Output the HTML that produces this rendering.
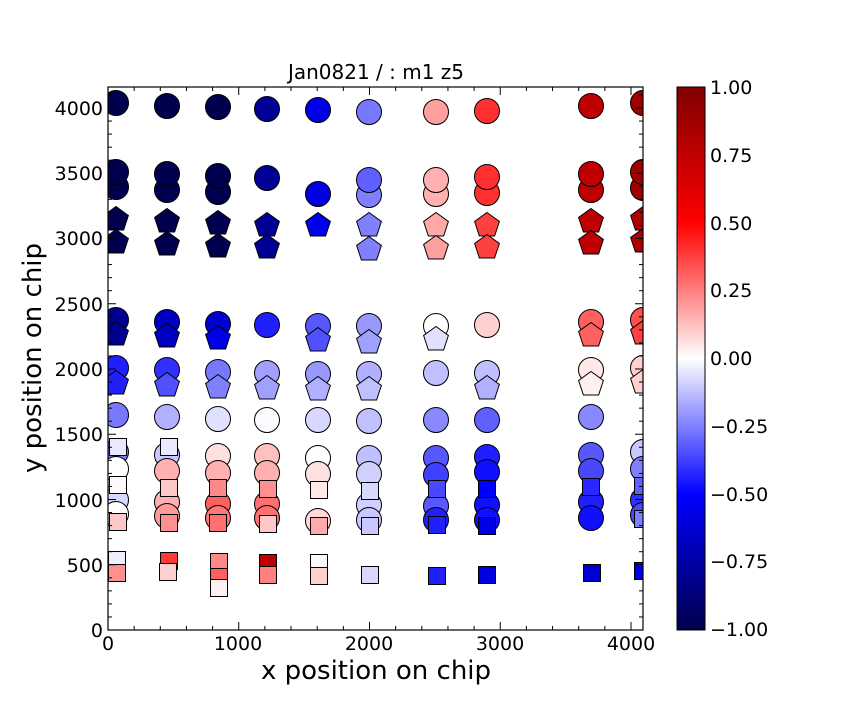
<!DOCTYPE html>
<html><head><meta charset="utf-8"><style>body{margin:0;background:#fff}svg{display:block;font-family:"DejaVu Sans","Liberation Sans",sans-serif}</style></head>
<body>
<svg id="s" width="864" height="720" viewBox="0 0 864 720" xmlns="http://www.w3.org/2000/svg">
<defs>
<clipPath id="c"><rect x="108" y="87" width="535" height="543"/></clipPath>
<linearGradient id="g" x1="0" y1="0" x2="0" y2="1">
<stop offset="0" stop-color="#800000"/><stop offset="0.25" stop-color="#ff0000"/><stop offset="0.5" stop-color="#ffffff"/><stop offset="0.75" stop-color="#0000ff"/><stop offset="1" stop-color="#00004c"/>
</linearGradient>
</defs>
<rect width="864" height="720" fill="#fff"/>
<g id="m" clip-path="url(#c)" stroke="#000" stroke-width="1"></g>
<g id="ax" stroke="#000" fill="none"></g>
<rect x="108" y="87" width="535" height="543" fill="none" stroke="#000" stroke-width="1.2"/>
<text x="376" y="79" font-size="20" text-anchor="middle">Jan0821 / : m1 z5</text>
<text x="376" y="679" font-size="26" text-anchor="middle">x position on chip</text>
<text x="41" y="358" font-size="26" text-anchor="middle" transform="rotate(-90 41 358)">y position on chip</text>
<g font-size="19" text-anchor="middle">
<text x="108" y="650">0</text><text x="238" y="650">1000</text><text x="369" y="650">2000</text><text x="500" y="650">3000</text><text x="631" y="650">4000</text>
</g>
<g font-size="19" text-anchor="end">
<text x="103" y="637">0</text><text x="103" y="572">500</text><text x="103" y="507">1000</text><text x="103" y="441">1500</text><text x="103" y="376">2000</text><text x="103" y="311">2500</text><text x="103" y="245">3000</text><text x="103" y="180">3500</text><text x="103" y="115">4000</text>
</g>
<rect x="677" y="87" width="28" height="543" fill="url(#g)" stroke="#000" stroke-width="1"/>
<g font-size="19">
<text x="710" y="94">1.00</text><text x="710" y="162">0.75</text><text x="710" y="230">0.50</text><text x="710" y="297">0.25</text><text x="710" y="365">0.00</text><text x="710" y="433">−0.25</text><text x="710" y="501">−0.50</text><text x="710" y="568">−0.75</text><text x="710" y="636">−1.00</text>
</g>
<script>
const m=document.getElementById('m'),ax=document.getElementById('ax');
const NS='http://www.w3.org/2000/svg';
function el(t,a,p){const e=document.createElementNS(NS,t);for(const k in a)e.setAttribute(k,a[k]);(p||m).appendChild(e);}
function C(x,y,c){el('circle',{cx:x,cy:y,r:12.5,fill:c});}
function S(x,y,c){el('rect',{x:x-8.5,y:y-8.5,width:17,height:17,fill:c});}
function P(x,y,c){let p=[];for(let i=0;i<5;i++){const a=-Math.PI/2+i*2*Math.PI/5;p.push((x+13*Math.cos(a)).toFixed(1)+','+(y+13*Math.sin(a)+1.5).toFixed(1));}el('polygon',{points:p.join(' '),fill:c});}
const N='#00004e',D='#000096';
[[116,103,N],[167,106,N],[218,107,N],[267,109,D],[318,110,'#0000e8'],[369,112,'#7777ff'],[436,112,'#ffa0a0'],[487,111,'#ff3030'],[591,106,'#c00000'],[643,103,'#a00000']].forEach(a=>C(...a));
[[116,187,N],[167,190,N],[218,192,N],[369,195,'#8080ff'],[436,194,'#ffb0b0'],[487,193,'#ff3030'],[591,190,'#c00000'],[643,188,'#a00000']].forEach(a=>C(...a));
[[116,172,N],[167,174,N],[218,176,N],[267,178,D],[318,194,'#0000e0'],[369,180,'#6060ff'],[436,180,'#ffb0b0'],[487,177,'#ff3030'],[591,174,'#c00000'],[643,172,'#a00000']].forEach(a=>C(...a));
[[116,218,N],[167,220,N],[218,222,N],[267,224,D],[318,224,'#0000f0'],[369,224,'#8080ff'],[436,224,'#ffa8a8'],[487,224,'#ff4040'],[591,220,'#c00000'],[643,218,'#b00000']].forEach(a=>P(...a));
[[116,241,N],[167,243,N],[218,245,N],[267,246,D],[369,248,'#8080ff'],[436,247,'#ffa0a0'],[487,246,'#ff4040'],[591,242,'#c00000'],[643,240,'#b00000']].forEach(a=>P(...a));
[[116,320,'#000090'],[167,322,'#0000c0'],[218,324,'#0000d0'],[267,325,'#2020ff'],[318,326,'#5858ff'],[369,326,'#9898ff'],[436,326,'#ffffff'],[487,325,'#ffd0d0'],[591,322,'#ff6060'],[643,320,'#ff5050']].forEach(a=>C(...a));
[[116,333,'#000090'],[167,335,'#0000c0'],[218,337,'#0000e8'],[318,339,'#5050ff'],[369,341,'#a0a0ff'],[436,338,'#e0e0ff'],[591,334,'#ff6060'],[643,332,'#ff4040']].forEach(a=>P(...a));
[[116,368,'#2020ff'],[167,370,'#3030ff'],[218,372,'#7878ff'],[267,373,'#a0a0ff'],[318,374,'#9898ff'],[369,374,'#b0b0ff'],[436,373,'#c0c0ff'],[487,373,'#c0c0ff'],[591,370,'#ffe8e8'],[643,368,'#ffd0d0']].forEach(a=>C(...a));
[[116,382,'#2020ff'],[167,384,'#5050ff'],[218,386,'#8080ff'],[267,387,'#a0a0ff'],[318,388,'#b0b0ff'],[369,388,'#c0c0ff'],[487,387,'#b0b0ff'],[591,383,'#fff0f0'],[643,381,'#ffd0d0']].forEach(a=>P(...a));
[[116,415,'#7878ff'],[167,417,'#b0b0ff'],[218,419,'#e0e0ff'],[267,420,'#fbfbff'],[318,420,'#d8d8ff'],[369,421,'#c0c0ff'],[436,420,'#8888ff'],[487,420,'#6060ff'],[591,417,'#8888ff']].forEach(a=>C(...a));
[[116,452,'#7878ff'],[167,455,'#c8c8ff'],[218,456,'#ffe0e0'],[267,456,'#ffc0c0'],[318,458,'#fefeff'],[369,458,'#c0c0ff'],[436,458,'#5858ff'],[487,457,'#2020ff'],[591,455,'#5858ff'],[643,452,'#c8c8ff']].forEach(a=>C(...a));
[[116,469,'#ffffff'],[167,471,'#ffb0b0'],[218,473,'#ffb0b0'],[267,473,'#ffb0b0'],[318,474,'#ffe0e0'],[369,474,'#d0d0ff'],[436,475,'#4040ff'],[487,472,'#1010ff'],[591,471,'#4848ff'],[643,469,'#8080ff']].forEach(a=>C(...a));
[[116,500,'#d8d8ff'],[167,502,'#ffb0b0'],[218,504,'#ff6060'],[267,504,'#ff7070'],[369,505,'#d0d0ff'],[436,506,'#5858ff'],[487,505,'#1010ff'],[591,502,'#2020ff'],[643,500,'#3030ff']].forEach(a=>C(...a));
[[116,514,'#ffffff'],[167,516,'#ff9898'],[218,518,'#ff7878'],[267,518,'#ff7070'],[318,521,'#ffd8d8'],[369,520,'#c8c8ff'],[436,520,'#2020ff'],[487,520,'#1010ff'],[591,518,'#1010ff'],[643,515,'#4848ff']].forEach(a=>C(...a));
[[118,447,'#e8e8ff'],[169,447,'#e8e8ff'],[118,485,'#fff8f8'],[169,488,'#ffc8c8'],[218,488,'#ff8888'],[268,489,'#ff9090'],[319,490,'#ffe8e8'],[370,491,'#d8d8ff'],[437,489,'#4848ff'],[487,489,'#0000ff'],[591,487,'#2828ff'],[643,486,'#6060ff'],
[118,522,'#ffc8c8'],[169,523,'#ff9090'],[218,523,'#ff7070'],[268,524,'#ffc8c8'],[319,526,'#ffaaaa'],[370,526,'#c8c8ff'],[437,525,'#2020ff'],[487,526,'#0000e8'],[643,519,'#8080ff'],
[117,560,'#eeeeff'],[169,561,'#ff3838'],[219,562,'#ff8888'],[268,563,'#c00000'],[319,563,'#f8f8ff'],[370,575,'#d8d8ff'],[437,576,'#2020ff'],[487,575,'#0000e0'],[592,573,'#0000d0'],[643,571,'#0000f0'],
[117,573,'#ff9090'],[168,572,'#ffd0d0'],[219,577,'#ff6060'],[268,575,'#ff8080'],[319,576,'#ffd0d0'],[219,588,'#fff0f0']].forEach(a=>S(...a));
function L(x1,y1,x2,y2){el('line',{x1,y1,x2,y2,'stroke-width':1},ax);}
for(let v=0;v<=4000;v+=200){const x=108+v*0.13075,maj=v%1000==0,l=maj?8:4;L(x,630,x,630-l);L(x,87,x,87+l);}
for(let v=0;v<=4100;v+=100){const y=630-v*0.1305,maj=v%500==0,l=maj?8:4;L(108,y,108+l,y);L(643,y,643-l,y);}
for(let i=0;i<=40;i++){const y=630-i*543/40,maj=i%5==0,l=maj?8:4;L(705,y,705-l,y);L(677,y,677+l,y);}
</script>
</svg>
</body></html>
